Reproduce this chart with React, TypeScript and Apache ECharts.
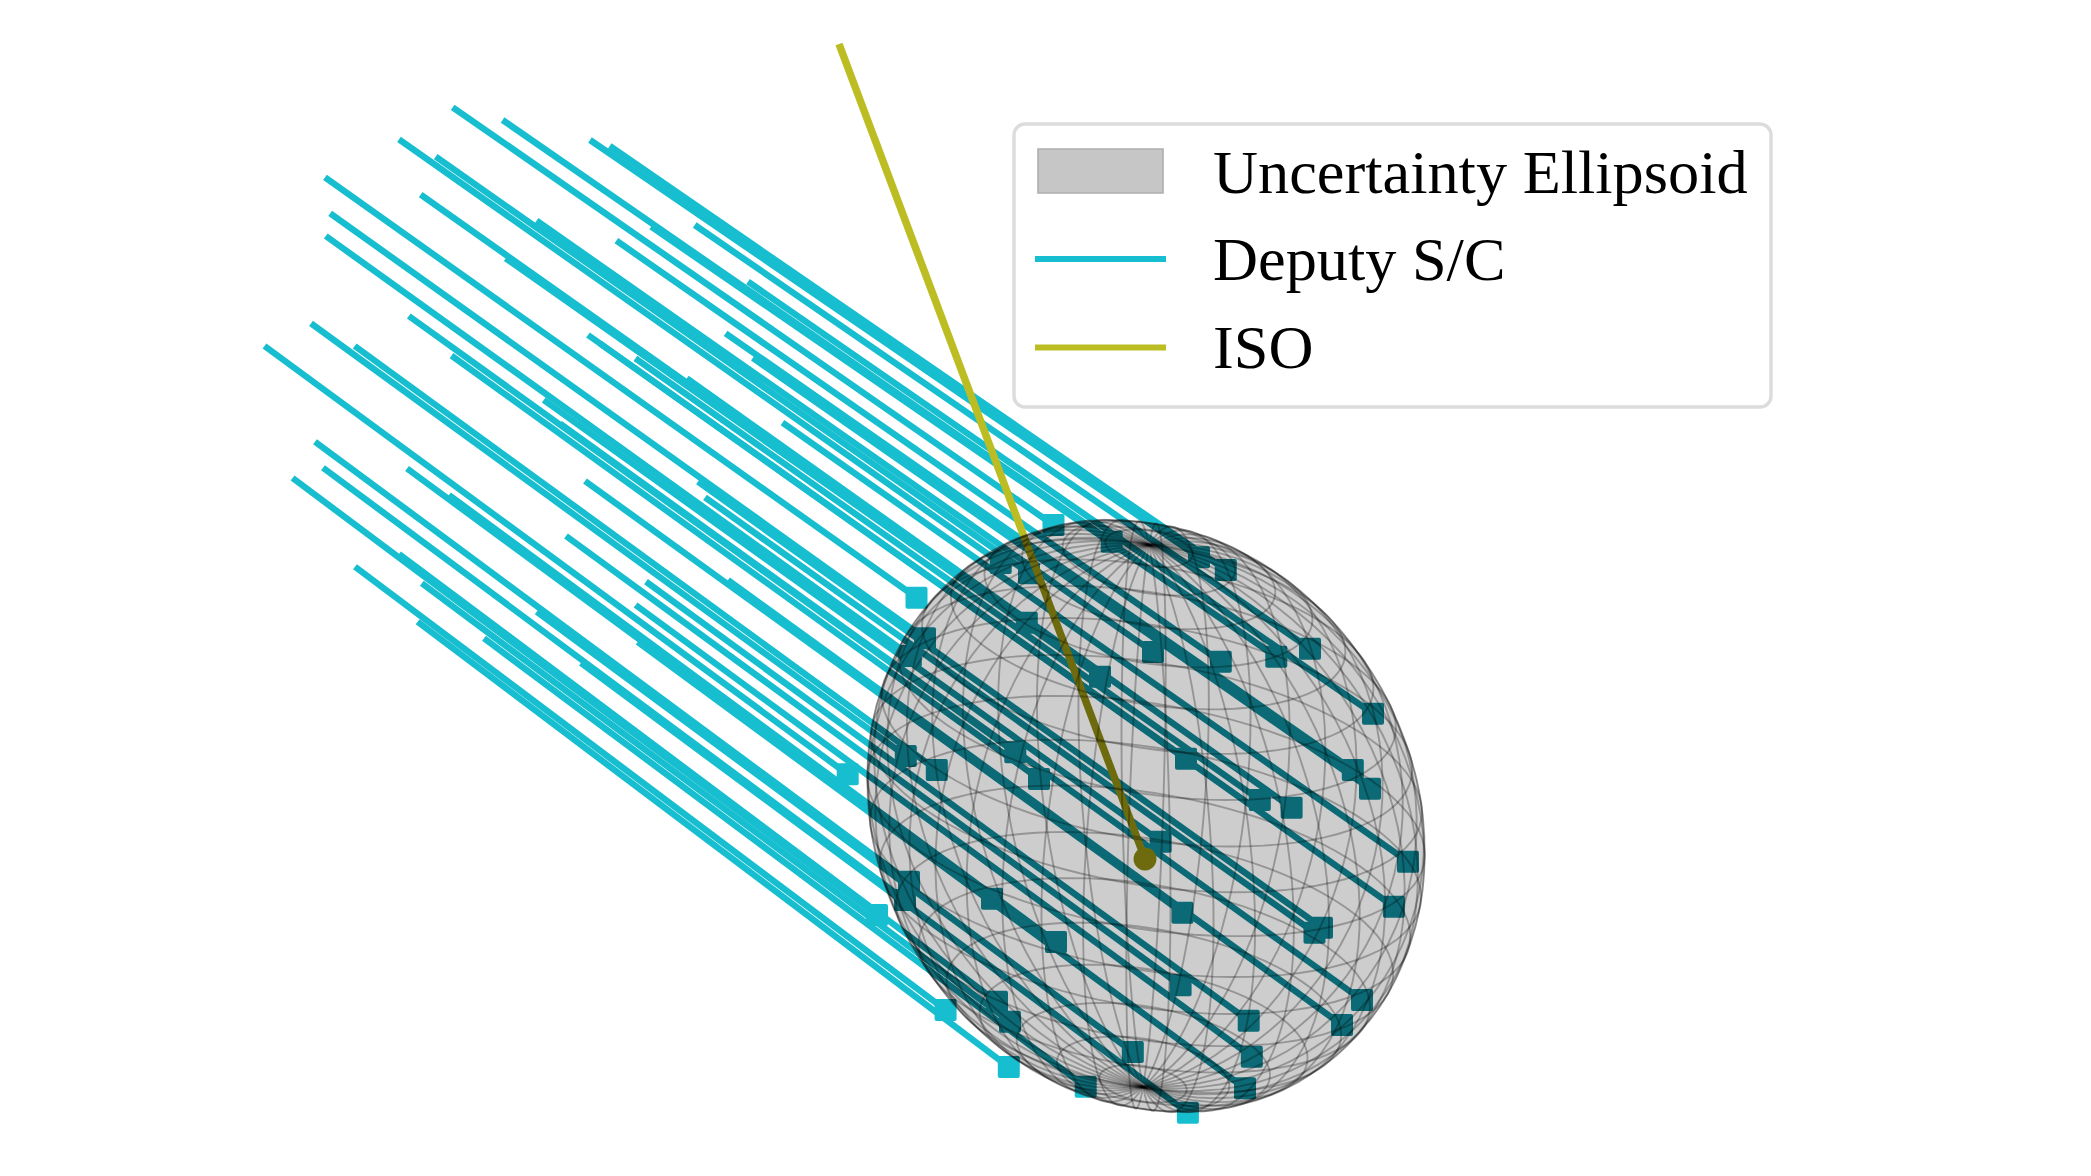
import React, { useEffect, useRef } from "react";
import * as echarts from "echarts";

const W = 2091;
const H = 1176;

// Trajectory start points (axis units = reference pixels)
const deputyStart: number[][] = [
  [452.7, 107.3], [502.6, 120], [590, 140], [609.7, 146], [399, 139.3], [435.7, 156.7], [325, 177.3], [420.7, 194.7], [330.2, 213.3], [325.8, 236],
  [536.6, 220.7], [616.4, 240.7], [694.7, 225], [748, 281.7], [725.6, 333.3], [752.8, 358], [651.2, 226.7], [505.7, 258.3], [408.8, 316], [311, 323.3],
  [354.7, 346], [264.5, 346], [451.5, 355.7], [588, 335], [635.4, 358.3], [686.8, 378.3], [782.5, 422.7], [543.7, 400], [698, 481.7], [705, 497.3],
  [315, 441.7], [323, 467.7], [292.6, 478], [407, 468.5], [449, 495], [585, 481], [728, 580], [566, 536], [646, 581.7], [635.6, 605],
  [637.7, 642], [536.7, 611.7], [581, 663], [355, 566.7], [417.6, 621.7], [399, 554], [421.8, 583.3], [484, 638.3], [600, 343.5], [560, 423.6],
];

// Matching end points (square markers)
const deputyEnd: number[][] = [
  [1053.5, 525], [1111.7, 541.7], [1199, 557.3], [1225.8, 570], [1000.7, 563], [1029, 573.3], [916.5, 597.7], [1026.8, 622.7], [925, 638.3], [910.8, 656],
  [1153, 652], [1220.8, 661.7], [1310, 648.7], [1373, 713.7], [1352.8, 770], [1370, 788.7], [1276.3, 656.7], [1100, 676.7], [1015.3, 752.3], [905.8, 756],
  [936.8, 770], [847.7, 774.3], [1039, 779], [1186, 758.7], [1259.8, 800], [1291.6, 807.7], [1408, 861.7], [1160.7, 841.7], [1322, 927.7], [1314.5, 932.7],
  [909, 881.7], [905, 900], [877, 915], [992, 898.7], [1056, 942], [1182.5, 912.7], [1342, 1025], [1180.6, 985.3], [1248.7, 1020.7], [1251.8, 1056.7],
  [1245, 1088.3], [1132.8, 1052], [1187.9, 1112.7], [945.6, 1010], [1008.8, 1067], [997, 1001.7], [1010, 1021.7], [1085.7, 1086.7], [1393.8, 906.7], [1362, 1000],
];

const isoPath: number[][] = [[839, 44], [1145, 859]];
const legendLabels = ["Uncertainty Ellipsoid", "Deputy S/C", "ISO"];

const CYAN = "#17becf";
const OLIVE = "#bcbd22";
const TEAL = "#0b6a75";
const DARK_OLIVE = "#6d6b0e";
const MARK = 22;
const DEPUTY_WIDTH = 6.4;
const ISO_WIDTH = 7.5;

// Ellipsoid surface seen from its viewpoint
const centre = [1146, 816];
const axisA = [279, 38.9];
const axisB = [0, 113.7];
const axisPole = [3, -271];
const outlineA = [279, 36];
const outlineB = [0, 293.8];
const PARALLEL_STEP = 9;
const MERIDIAN_STEP = 9;
const MERIDIAN_PHASE = 4;

const rad = (d: number) => (d * Math.PI) / 180;
const surf = (lat: number, lon: number) => {
  const c = Math.cos(rad(lat));
  const s = Math.sin(rad(lat));
  const u = Math.cos(rad(lon));
  const v = Math.sin(rad(lon));
  return [
    centre[0] + c * (u * axisA[0] + v * axisB[0]) + s * axisPole[0],
    centre[1] + c * (u * axisA[1] + v * axisB[1]) + s * axisPole[1],
  ];
};
const outline: number[][] = [];
for (let t = 0; t < 360; t += 3) {
  const u = Math.cos(rad(t));
  const v = Math.sin(rad(t));
  outline.push([centre[0] + u * outlineA[0] + v * outlineB[0], centre[1] + u * outlineA[1] + v * outlineB[1]]);
}
const wires: number[][][] = [];
for (let lat = -90 + PARALLEL_STEP; lat < 90; lat += PARALLEL_STEP) {
  const ring: number[][] = [];
  for (let lon = 0; lon <= 360; lon += 4) ring.push(surf(lat, lon));
  wires.push(ring);
}
for (let lon = MERIDIAN_PHASE; lon < 360; lon += MERIDIAN_STEP) {
  const arc: number[][] = [];
  for (let lat = -90; lat <= 90; lat += 4) arc.push(surf(lat, lon));
  wires.push(arc);
}

export default function App() {
  const ref = useRef<HTMLDivElement>(null);
  useEffect(() => {
    if (!ref.current) return;
    const chart = echarts.init(ref.current, undefined, { renderer: "svg" });
    const toPts = (api: any, pts: number[][]) => pts.map((p) => api.coord(p));
    const clip = (api: any) => ({ type: "polygon", shape: { points: toPts(api, outline) } });
    const legendX0 = 1035;
    const legendX1 = 1166;
    chart.setOption({
      animation: false,
      backgroundColor: "#ffffff",
      grid: { left: 0, right: 0, top: 0, bottom: 0 },
      xAxis: { type: "value", min: 0, max: W, show: false },
      yAxis: { type: "value", min: 0, max: H, inverse: true, show: false },
      series: [
        {
          type: "lines",
          name: "Deputy S/C",
          coordinateSystem: "cartesian2d",
          polyline: false,
          silent: true,
          z: 2,
          lineStyle: { color: CYAN, width: DEPUTY_WIDTH, opacity: 1, curveness: 0 },
          data: deputyStart.map((s, i) => ({ coords: [s, deputyEnd[i]] })),
        },
        {
          type: "custom",
          name: "Deputy end",
          coordinateSystem: "cartesian2d",
          silent: true,
          clip: false,
          z: 3,
          data: deputyEnd,
          renderItem: (_p: any, api: any) => {
            const c = api.coord([api.value(0), api.value(1)]);
            return {
              type: "rect",
              shape: { x: c[0] - MARK / 2, y: c[1] - MARK / 2, width: MARK, height: MARK, r: 2 },
              style: { fill: CYAN },
            };
          },
        },
        {
          type: "lines",
          name: "ISO",
          coordinateSystem: "cartesian2d",
          polyline: false,
          silent: true,
          z: 4,
          lineStyle: { color: OLIVE, width: ISO_WIDTH, opacity: 1, curveness: 0 },
          data: [{ coords: isoPath }],
        },
        {
          type: "custom",
          name: "Uncertainty Ellipsoid",
          coordinateSystem: "cartesian2d",
          silent: true,
          clip: false,
          z: 5,
          data: [[centre[0], centre[1]]],
          renderItem: (_p: any, api: any) => ({
            type: "polygon",
            shape: { points: toPts(api, outline) },
            style: { fill: "#cdcdcd", stroke: "rgba(70,70,70,0.3)", lineWidth: 1.5 },
          }),
        },
        {
          type: "custom",
          name: "Deputy inside",
          coordinateSystem: "cartesian2d",
          silent: true,
          clip: false,
          z: 6,
          data: deputyEnd.map((_e, i) => [i, 0]),
          renderItem: (_p: any, api: any) => {
            const i = api.value(0);
            const a = api.coord(deputyStart[i]);
            const b = api.coord(deputyEnd[i]);
            return {
              type: "group",
              clipPath: clip(api),
              children: [
                {
                  type: "line",
                  shape: { x1: a[0], y1: a[1], x2: b[0], y2: b[1] },
                  style: { stroke: TEAL, lineWidth: DEPUTY_WIDTH, fill: null },
                },
                {
                  type: "rect",
                  shape: { x: b[0] - MARK / 2, y: b[1] - MARK / 2, width: MARK, height: MARK, r: 2 },
                  style: { fill: TEAL },
                },
              ],
            };
          },
        },
        {
          type: "custom",
          name: "ISO inside",
          coordinateSystem: "cartesian2d",
          silent: true,
          clip: false,
          z: 7,
          data: [[isoPath[1][0], isoPath[1][1]]],
          renderItem: (_p: any, api: any) => {
            const a = api.coord(isoPath[0]);
            const b = api.coord(isoPath[1]);
            return {
              type: "group",
              clipPath: clip(api),
              children: [
                {
                  type: "line",
                  shape: { x1: a[0], y1: a[1], x2: b[0], y2: b[1] },
                  style: { stroke: DARK_OLIVE, lineWidth: ISO_WIDTH, fill: null },
                },
                { type: "circle", shape: { cx: b[0], cy: b[1], r: 11.5 }, style: { fill: DARK_OLIVE } },
              ],
            };
          },
        },
        {
          type: "custom",
          name: "Wireframe",
          coordinateSystem: "cartesian2d",
          silent: true,
          clip: false,
          z: 8,
          data: wires.map((_w, i) => [i, 0]),
          renderItem: (_p: any, api: any) => ({
            type: "polyline",
            shape: { points: toPts(api, wires[api.value(0)]) },
            style: { stroke: "rgba(0,0,0,0.27)", lineWidth: 1.9, fill: null },
          }),
        },
      ],
      graphic: [
        {
          type: "rect",
          z: 20,
          silent: true,
          shape: { x: 1014, y: 124, width: 757, height: 283, r: 11 },
          style: { fill: "#ffffff", stroke: "#dcdcdc", lineWidth: 3.4 },
        },
        {
          type: "rect",
          z: 21,
          silent: true,
          shape: { x: 1038, y: 149, width: 125, height: 44 },
          style: { fill: "#c6c6c6", stroke: "#aeaeae", lineWidth: 1.6 },
        },
        {
          type: "line",
          z: 21,
          silent: true,
          shape: { x1: legendX0, y1: 259, x2: legendX1, y2: 259 },
          style: { stroke: CYAN, lineWidth: 6 },
        },
        {
          type: "line",
          z: 21,
          silent: true,
          shape: { x1: legendX0, y1: 347.5, x2: legendX1, y2: 347.5 },
          style: { stroke: OLIVE, lineWidth: 6 },
        },
        ...legendLabels.map((t, i) => ({
          type: "text",
          z: 21,
          silent: true,
          x: 1213,
          y: [171, 258, 346.5][i],
          style: {
            text: t,
            fill: "#000000",
            fontFamily: "'Liberation Serif', serif",
            fontSize: 62.3,
            verticalAlign: "middle",
            align: "left",
          },
        })),
      ],
    });
    return () => chart.dispose();
  }, []);
  return <div ref={ref} style={{ position: "fixed", left: 0, top: 0, width: W, height: H }} />;
}
